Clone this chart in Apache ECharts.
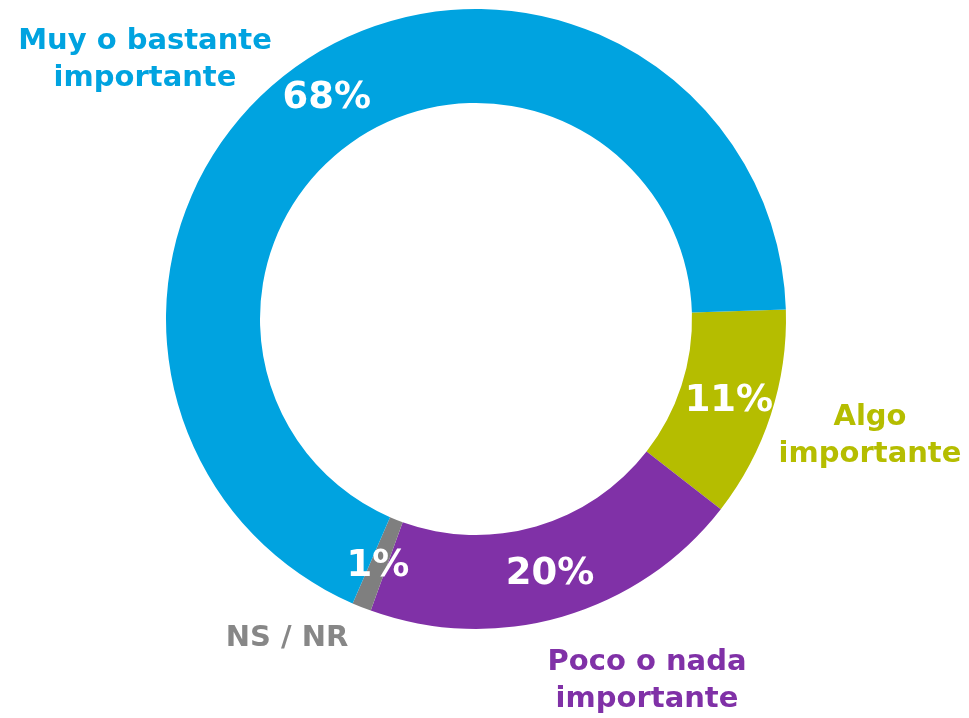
<!DOCTYPE html>
<html>
<head>
<meta charset="utf-8">
<script src="https://cdn.jsdelivr.net/npm/echarts@6/dist/echarts.min.js"></script>
<style>
  html, body { margin: 0; padding: 0; background: #fff; }
  #chart { width: 969px; height: 718px; }
</style>
</head>
<body>
<div id="chart"></div>
<script>
// categories in clockwise order from 3 o'clock
const categories = ['Algo\nimportante', 'Poco o nada\nimportante', 'NS / NR', 'Muy o bastante\nimportante']
const values = [11, 20, 1, 68]
const colors = ['#b5bd00', '#8031a7', '#7f7f7f', '#00a3e0']
const textColors = ['#b5bd00', '#8031a7', '#878787', '#00a3e0']
// where each category name sits (px)
const namePos = [[870, 436], [647, 681], [287, 638], [145, 60]]

const center = [476, 319]
const font = 'DejaVu Sans'

const chart = echarts.init(document.getElementById('chart'))

chart.setOption({
  animation: false,
  series: [
    {
      type: 'pie',
      center: center,
      radius: [216, 310],
      startAngle: 1.75,
      clockwise: true,
      avoidLabelOverlap: false,
      data: values.map((v, i) => ({ value: v, name: categories[i], itemStyle: { color: colors[i] } })),
      label: {
        show: true,
        position: 'inside',
        formatter: '{c}%',
        color: '#fff',
        fontFamily: font,
        fontWeight: 'bold',
        fontSize: 37,
      },
      labelLine: { show: false },
      z: 2,
    },
    {
      // only carries the category names
      type: 'pie',
      center: center,
      radius: [216, 310],
      startAngle: 1.75,
      silent: true,
      avoidLabelOverlap: false,
      data: values.map((v, i) => ({
        value: v,
        name: categories[i],
        itemStyle: { color: 'transparent' },
        label: { color: textColors[i] },
      })),
      label: {
        show: true,
        position: 'outside',
        formatter: '{b}',
        fontFamily: font,
        fontWeight: 'bold',
        fontSize: 29,
        lineHeight: 37,
        align: 'center',
      },
      labelLine: { show: false },
      labelLayout: (params) => ({
        x: namePos[params.dataIndex][0],
        y: namePos[params.dataIndex][1],
        align: 'center',
        verticalAlign: 'middle',
      }),
      z: 1,
    },
  ],
})
</script>
</body>
</html>
